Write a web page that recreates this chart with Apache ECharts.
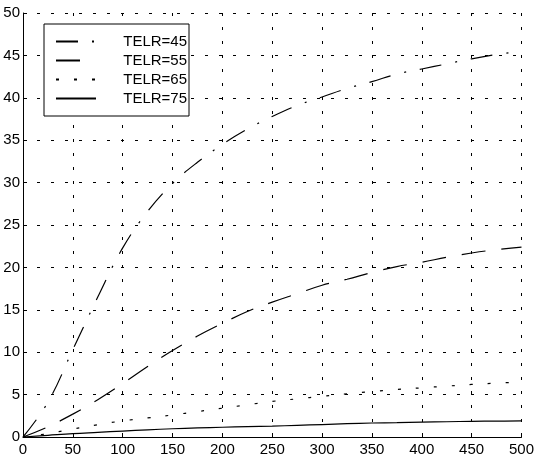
<!DOCTYPE html>
<html>
<head>
<meta charset="utf-8">
<script src="https://cdn.jsdelivr.net/npm/echarts@6/dist/echarts.min.js"></script>
<style>
  html, body { margin: 0; padding: 0; background: #fff; }
  #chart { width: 537px; height: 464px; }
</style>
</head>
<body>
<div id="chart"></div>
<script>
// x 取值
var xs = [0, 25, 50, 75, 100, 125, 150, 175, 200, 225, 250, 275, 300, 325, 350, 375, 400, 425, 450, 475, 500];
// 各曲线数值
var telr45 = [0, 4.1, 10.3, 16.5, 22.3, 26.6, 29.9, 32.4, 34.5, 36.3, 37.8, 39.1, 40.1, 41.1, 41.9, 42.8, 43.4, 44.0, 44.6, 45.1, 45.5];
var telr55 = [0, 1.2, 2.7, 4.4, 6.3, 8.3, 10.2, 11.9, 13.4, 14.8, 15.9, 16.9, 17.9, 18.6, 19.4, 20.1, 20.6, 21.2, 21.7, 22.1, 22.4];
var telr65 = [0, 0.4, 0.95, 1.45, 1.9, 2.25, 2.6, 3.0, 3.4, 3.8, 4.2, 4.5, 4.8, 5.1, 5.35, 5.6, 5.8, 6.0, 6.2, 6.35, 6.5];
var telr75 = [0, 0.2, 0.4, 0.55, 0.7, 0.85, 0.97, 1.07, 1.15, 1.22, 1.28, 1.38, 1.47, 1.57, 1.65, 1.7, 1.75, 1.8, 1.85, 1.87, 1.9];
var names = ["TELR=45", "TELR=55", "TELR=65", "TELR=75"];

function pairs(ys) {
  return xs.map(function (x, i) { return [x, ys[i]]; });
}

var chart = echarts.init(document.getElementById("chart"));
var font = "Liberation Sans, Arial, sans-serif";
var gridLine = { show: true, lineStyle: { color: "#000", width: 1, type: [3, 11] } };

function line(name, ys, dash) {
  return {
    name: name,
    type: "line",
    data: pairs(ys),
    symbol: "none",
    smooth: 0.4,
    itemStyle: { color: "#000", opacity: 0 },
    lineStyle: { color: "#000", width: 1.2, type: dash },
    z: 3
  };
}

chart.setOption({
  animation: false,
  backgroundColor: "#fff",
  color: ["#000"],
  grid: { left: 23, right: 12, top: 13, bottom: 27 },
  legend: {
    orient: "vertical",
    left: 44,
    top: 24,
    padding: [10, 2, 10, 11],
    itemGap: 4,
    itemWidth: 40,
    itemHeight: 14,
    backgroundColor: "#fff",
    borderColor: "#000",
    borderWidth: 1,
    itemStyle: { opacity: 0 },
    data: names,
    formatter: "{a|{name}}",
    textStyle: {
      fontFamily: font,
      fontSize: 15,
      color: "#000",
      rich: { a: { width: 86, align: "right", fontSize: 15, fontFamily: font } }
    }
  },
  xAxis: {
    type: "value",
    min: 0,
    max: 500,
    interval: 50,
    axisLine: { show: true, onZero: false, lineStyle: { color: "#000", width: 1 } },
    axisTick: { show: true, inside: true, length: 4, lineStyle: { color: "#000" } },
    axisLabel: { color: "#000", fontSize: 15, fontFamily: font, margin: 5 },
    splitLine: gridLine
  },
  yAxis: {
    type: "value",
    min: 0,
    max: 50,
    interval: 5,
    axisLine: { show: true, onZero: false, lineStyle: { color: "#000", width: 1 } },
    axisTick: { show: true, inside: true, length: 4, lineStyle: { color: "#000" } },
    axisLabel: { color: "#000", fontSize: 15, fontFamily: font, margin: 3 },
    splitLine: gridLine
  },
  series: [
    line(names[0], telr45, [22, 14, 2, 14]),
    line(names[1], telr55, [24, 16]),
    line(names[2], telr65, [3, 15]),
    line(names[3], telr75, "solid")
  ]
});
</script>
</body>
</html>
